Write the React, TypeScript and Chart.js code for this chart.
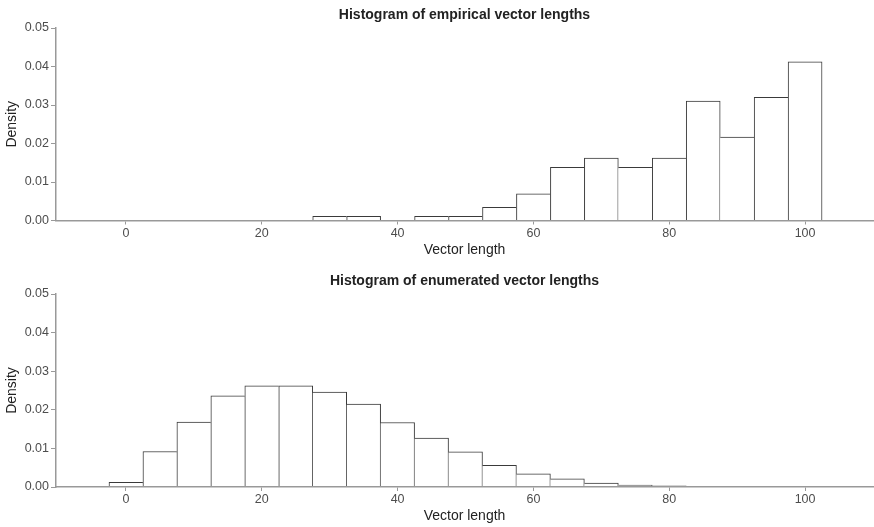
import React, { useEffect, useRef } from "react";
import { Chart, registerables } from "chart.js";

Chart.register(...registerables);

// ---- data ----
const empiricalBins = [30, 35, 40, 45, 50, 55, 60, 65, 70, 75, 80, 85, 90, 95, 100];
const empiricalDensity = [0.0011, 0.0011, 0, 0.0011, 0.0011, 0.0034, 0.0069, 0.0138, 0.0162, 0.0138, 0.0162, 0.031, 0.0217, 0.032, 0.0412];

const enumeratedBins = [0, 5, 10, 15, 20, 25, 30, 35, 40, 45, 50, 55, 60, 65, 70, 75, 80];
const enumeratedDensity = [0.0012, 0.0092, 0.0168, 0.0236, 0.0262, 0.0262, 0.0246, 0.0215, 0.0167, 0.0127, 0.0091, 0.0056, 0.0034, 0.0021, 0.001, 0.0005, 0.0003];

const xTicks = [0, 20, 40, 60, 80, 100];
const yTicks = [0, 0.01, 0.02, 0.03, 0.04, 0.05];
const binWidth = 5;

const FONT = "'Liberation Sans', Arial, Helvetica, sans-serif";
const AXIS = "#999999";
const TICKTXT = "#4d4d4d";
const DARK = "#222222";

type HistProps = {
  bins: number[];
  values: number[];
  title: string;
  height: number;
  padBottom: number;
  top: number;
};

function Histogram({ bins, values, title, height, padBottom, top }: HistProps) {
  const ref = useRef<HTMLCanvasElement | null>(null);
  useEffect(() => {
    if (!ref.current) return;
    const points = bins
      .map((b, i) => ({ x: b, y: values[i] }))
      .filter((p) => p.y > 0);
    const valAt = (x: number) => {
      const p = points.find((q) => Math.abs(q.x - x) < 1e-9);
      return p ? p.y : null;
    };
    const chart = new Chart(ref.current, {
      type: "bar",
      data: {
        datasets: [
          {
            data: points,
            backgroundColor: "#ffffff",
            borderColor: "#3a3a3a",
            borderSkipped: false,
            borderWidth: (ctx: any) => {
              const p = points[ctx.dataIndex];
              if (!p) return 1;
              const prev = valAt(p.x - binWidth);
              const next = valAt(p.x + binWidth);
              return {
                top: 1,
                bottom: 0,
                left: prev === null || prev <= p.y ? 1 : 0,
                right: next === null || next < p.y ? 1 : 0,
              };
            },
            barPercentage: 1,
            categoryPercentage: 1,
            grouped: false,
          } as any,
        ],
      },
      options: {
        animation: false,
        responsive: false,
        events: [],
        layout: { padding: { left: 0, right: 1, top: 0, bottom: padBottom } },
        plugins: {
          legend: { display: false },
          tooltip: { enabled: false },
          title: {
            display: true,
            text: title,
            fullSize: false,
            color: DARK,
            font: { family: FONT, size: 14, weight: "bold" },
            padding: { top: 6.6, bottom: 4.6 },
          },
        },
        scales: {
          x: {
            type: "linear",
            min: -10.3,
            max: 110,
            offset: false,
            grid: {
              offset: false,
              drawOnChartArea: false,
              drawTicks: true,
              tickLength: 4,
              color: AXIS,
              lineWidth: 1,
            },
            border: { display: true, color: AXIS, width: 1.5, z: 1 },
            afterBuildTicks: (scale: any) => {
              scale.ticks = xTicks.map((v) => ({ value: v }));
            },
            afterFit: (scale: any) => {
              scale.height = 40;
            },
            ticks: {
              color: TICKTXT,
              font: { family: FONT, size: 12.5 },
              padding: 1.5,
              maxRotation: 0,
              autoSkip: false,
              callback: (v: any) => String(v),
            },
            title: {
              display: true,
              text: "Vector length",
              color: DARK,
              font: { family: FONT, size: 14 },
              padding: { top: 0, bottom: 2.1 },
            },
          },
          y: {
            type: "linear",
            min: 0,
            max: 0.05,
            grid: {
              drawOnChartArea: false,
              drawTicks: true,
              tickLength: 5,
              color: AXIS,
              lineWidth: 1,
            },
            border: { display: true, color: AXIS, width: 1.5, z: 1 },
            afterBuildTicks: (scale: any) => {
              scale.ticks = yTicks.map((v) => ({ value: v }));
            },
            afterFit: (scale: any) => {
              scale.width = 56;
            },
            ticks: {
              color: TICKTXT,
              font: { family: FONT, size: 12.5 },
              padding: 2,
              autoSkip: false,
              callback: (v: any) => Number(v).toFixed(2),
            },
            title: {
              display: true,
              text: "Density",
              color: DARK,
              font: { family: FONT, size: 14 },
              padding: { top: 4.1, bottom: 0 },
            },
          },
        },
      } as any,
    });
    return () => chart.destroy();
  }, [bins, values, title, height, padBottom]);
  return (
    <canvas
      ref={ref}
      width={874}
      height={height}
      style={{ position: "absolute", left: 0, top, width: 874, height }}
    />
  );
}

export default function App() {
  return (
    <div style={{ position: "absolute", left: 0, top: 0, width: 874, height: 527, background: "#ffffff" }}>
      <Histogram
        bins={empiricalBins}
        values={empiricalDensity}
        title="Histogram of empirical vector lengths"
        height={264}
        padBottom={3.5}
        top={0}
      />
      <Histogram
        bins={enumeratedBins}
        values={enumeratedDensity}
        title="Histogram of enumerated vector lengths"
        height={261}
        padBottom={0}
        top={266}
      />
    </div>
  );
}
